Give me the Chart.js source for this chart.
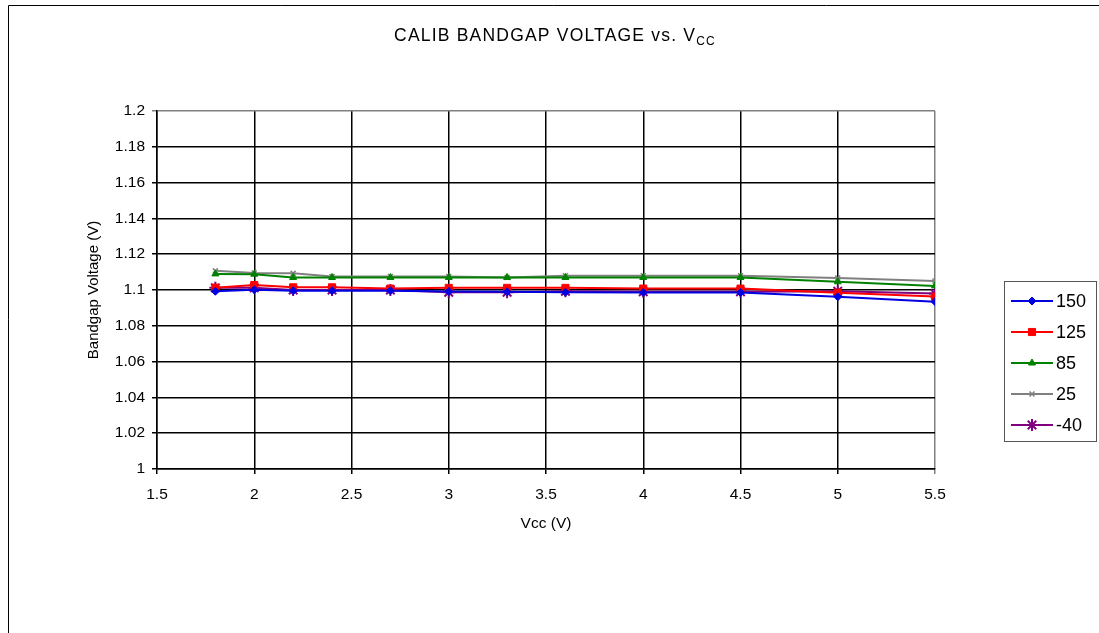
<!DOCTYPE html>
<html>
<head>
<meta charset="utf-8">
<script src="https://cdn.jsdelivr.net/npm/chart.js@4.4.1/dist/chart.umd.min.js"></script>
<style>
  html, body { margin: 0; padding: 0; background: #fff; }
  #wrap { width: 1099px; height: 633px; }
</style>
</head>
<body>
<div id="wrap"><canvas id="chart" width="1099" height="633"></canvas></div>
<script>
// supply voltages (V)
const vcc = [1.8, 2.0, 2.2, 2.4, 2.7, 3.0, 3.3, 3.6, 4.0, 4.5, 5.0, 5.5];

// bandgap voltage per temperature
const t150 = [1.0993, 1.1002, 1.0996, 1.0996, 1.0996, 1.0992, 1.0990, 1.0988, 1.0986, 1.0986, 1.0962, 1.0935];
const t125 = [1.1013, 1.1028, 1.1015, 1.1015, 1.1008, 1.1012, 1.1012, 1.1012, 1.1008, 1.1008, 1.0985, 1.0963];
const t85 = [1.1090, 1.1088, 1.1070, 1.1070, 1.1070, 1.1070, 1.1070, 1.1070, 1.1070, 1.1070, 1.1046, 1.1023];
const t25 = [1.1107, 1.1095, 1.1093, 1.1076, 1.1076, 1.1076, 1.1070, 1.1080, 1.1080, 1.1080, 1.1067, 1.1050];
const tm40 = [1.1012, 1.1012, 1.1000, 1.1000, 1.1000, 1.0987, 1.0987, 1.0993, 1.0990, 1.0990, 1.0993, 1.0980];

const seriesLabels = ["150", "125", "85", "25", "-40"];

const xTicks = [1.5, 2, 2.5, 3, 3.5, 4, 4.5, 5, 5.5];
const yTicks = [1, 1.02, 1.04, 1.06, 1.08, 1.1, 1.12, 1.14, 1.16, 1.18, 1.2];

const FONT = "'Liberation Sans', Arial, Helvetica, sans-serif";

function pts(ys) {
  return vcc.map((x, i) => ({ x: x, y: ys[i] }));
}

function makeSet(label, ys, color, style, radius, bw) {
  return {
    label: label,
    data: pts(ys),
    borderColor: color,
    backgroundColor: color,
    pointBackgroundColor: color,
    pointBorderColor: color,
    pointStyle: style,
    pointRadius: radius,
    pointBorderWidth: bw,
    borderWidth: 2,
    tension: 0
  };
}

const datasets = [
  makeSet(seriesLabels[0], t150, "#0000e0", "rectRot", 4, 1),
  makeSet(seriesLabels[1], t125, "#ff0000", "rect", 5, 1),
  makeSet(seriesLabels[2], t85, "#008000", "triangle", 4, 1),
  makeSet(seriesLabels[3], t25, "#808080", "crossRot", 3.5, 1.5),
  makeSet(seriesLabels[4], tm40, "#800080", "star", 6, 2)
];

// frame, title with subscript, legend box
const decor = {
  id: "decor",
  beforeDraw(chart) {
    const c = chart.ctx;
    c.save();
    c.strokeStyle = "#000";
    c.lineWidth = 1;
    c.beginPath();
    c.moveTo(8.5, 633);
    c.lineTo(8.5, 5.5);
    c.lineTo(1099, 5.5);
    c.stroke();
    c.restore();
  },
  afterDraw(chart) {
    const c = chart.ctx;
    c.save();
    // title
    const main = "CALIB BANDGAP VOLTAGE vs. V";
    const sub = "CC";
    c.fillStyle = "#000";
    c.textBaseline = "alphabetic";
    c.letterSpacing = "1.2px";
    c.font = "17.5px " + FONT;
    const w1 = c.measureText(main).width;
    c.font = "12px " + FONT;
    const w2 = c.measureText(sub).width;
    let x0 = 555 - (w1 + w2) / 2;
    c.font = "17.5px " + FONT;
    c.textAlign = "left";
    c.fillText(main, x0, 41);
    c.font = "12px " + FONT;
    c.fillText(sub, x0 + w1, 45);
    c.letterSpacing = "0px";

    // legend
    c.strokeStyle = "#555";
    c.lineWidth = 1;
    c.strokeRect(1004.5, 281.5, 92, 160);
    const drawPoint = Chart.helpers && Chart.helpers.drawPoint;
    chart.data.datasets.forEach((ds, i) => {
      const y = 301 + i * 31;
      c.strokeStyle = ds.borderColor;
      c.lineWidth = 2;
      c.beginPath();
      c.moveTo(1011, y);
      c.lineTo(1053, y);
      c.stroke();
      if (drawPoint) {
        c.fillStyle = ds.pointBackgroundColor;
        c.strokeStyle = ds.pointBorderColor;
        c.lineWidth = ds.pointBorderWidth;
        drawPoint(c, { pointStyle: ds.pointStyle, radius: ds.pointRadius, rotation: 0, borderWidth: ds.pointBorderWidth }, 1032, y);
      }
      c.fillStyle = "#000";
      c.font = "18px " + FONT;
      c.textBaseline = "middle";
      c.fillText(ds.label, 1056, y + 1);
    });
    c.restore();
  }
};

function gridColor(max) {
  return (ctx) => (ctx.tick && Math.abs(ctx.tick.value - max) < 1e-9 ? "#808080" : "#000");
}

new Chart(document.getElementById("chart"), {
  type: "line",
  data: { datasets: datasets },
  options: {
    responsive: false,
    animation: false,
    devicePixelRatio: 1,
    layout: { padding: { left: 0, top: 111, right: 164, bottom: 0 } },
    plugins: {
      legend: { display: false },
      title: { display: false },
      tooltip: { enabled: false }
    },
    scales: {
      x: {
        type: "linear",
        min: 1.5,
        max: 5.5,
        afterFit(scale) { scale.height = 164; },
        afterBuildTicks(scale) { scale.ticks = xTicks.map((v) => ({ value: v })); },
        grid: { color: gridColor(5.5), lineWidth: 1.5, tickLength: 5 },
        border: { color: "#000", width: 1.5 },
        ticks: {
          color: "#000",
          font: { family: FONT, size: 15.5 },
          padding: 11,
          maxRotation: 0,
          callback: (v) => String(v)
        },
        title: {
          display: true,
          text: "Vcc (V)",
          color: "#000",
          font: { family: FONT, size: 15.5 },
          padding: { top: 0, bottom: 100 }
        }
      },
      y: {
        type: "linear",
        min: 1,
        max: 1.2,
        afterFit(scale) { scale.width = 157; },
        afterBuildTicks(scale) { scale.ticks = yTicks.map((v) => ({ value: v })); },
        grid: { color: gridColor(1.2), lineWidth: 1.5, tickLength: 5 },
        border: { color: "#000", width: 1.5 },
        ticks: {
          color: "#000",
          font: { family: FONT, size: 15.5 },
          padding: 7,
          callback: (v) => String(Number(v.toFixed(2)))
        },
        title: {
          display: true,
          text: "Bandgap Voltage (V)",
          color: "#000",
          font: { family: FONT, size: 15 },
          padding: { top: 85, bottom: 0 }
        }
      }
    }
  },
  plugins: [decor]
});
</script>
</body>
</html>
